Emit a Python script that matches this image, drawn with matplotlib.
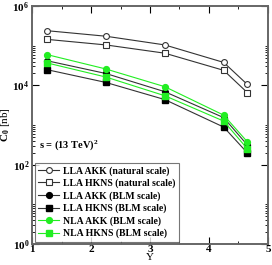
import matplotlib
matplotlib.use('Agg')
import matplotlib.pyplot as plt
from matplotlib.ticker import FixedLocator, NullFormatter

plt.rcParams['font.family'] = 'Liberation Serif'
plt.rcParams['font.weight'] = 'bold'
plt.rcParams['mathtext.fontset'] = 'custom'
plt.rcParams['mathtext.rm'] = 'Liberation Serif:bold'
plt.rcParams['mathtext.it'] = 'Liberation Serif:bold'
plt.rcParams['mathtext.bf'] = 'Liberation Serif:bold'

# rapidity interval Y
Y = [1.25, 2.25, 3.25, 4.25, 4.65]

# C_0 in nb
lla_akk_nat = [2.4e5, 1.74e5, 1.05e5, 3.8e4, 1.06e4]
lla_hkns_nat = [1.45e5, 1.05e5, 6.5e4, 2.4e4, 6.6e3]
lla_akk_blm = [4.2e4, 2.0e4, 6.95e3, 1.54e3, 316]
lla_hkns_blm = [2.5e4, 1.19e4, 4.4e3, 890, 200]
nla_akk_blm = [6.0e4, 2.6e4, 9.3e3, 1.78e3, 380]
nla_hkns_blm = [3.7e4, 1.63e4, 5.5e3, 1.26e3, 253]

labels = ['LLA AKK (natural scale)', 'LLA HKNS (natural scale)',
          'LLA AKK (BLM scale)', 'LLA HKNS (BLM scale)',
          'NLA AKK (BLM scale)', 'NLA HKNS (BLM scale)']

fig = plt.figure(figsize=(2.72, 2.65), dpi=100)
ax = fig.add_axes([0.118, 0.079, 0.867, 0.898])

dark = '#333333'
green = '#22ee22'
ms = 4.2
ax.plot(Y, lla_akk_nat, '-o', color=dark, lw=0.8, ms=ms, mfc='white', mec=dark, mew=0.8, label=labels[0])
ax.plot(Y, lla_hkns_nat, '-s', color=dark, lw=0.8, ms=ms - 0.4, mfc='white', mec=dark, mew=0.8, label=labels[1])
ax.plot(Y, lla_akk_blm, '-o', color=dark, lw=0.8, ms=ms, mfc='black', mec='black', label=labels[2])
ax.plot(Y, lla_hkns_blm, '-s', color=dark, lw=0.8, ms=ms - 0.4, mfc='black', mec='black', label=labels[3])
ax.plot(Y, nla_akk_blm, '-o', color=green, lw=0.8, ms=ms, mfc=green, mec=green, label=labels[4])
ax.plot(Y, nla_hkns_blm, '-s', color=green, lw=0.8, ms=ms - 0.4, mfc=green, mec=green, label=labels[5])

ax.set_yscale('log')
ax.set_xlim(1, 5)
ax.set_ylim(1, 1e6)
ax.set_xticks([1, 2, 3, 4, 5])
ax.set_xticks([1.5, 2.5, 3.5, 4.5], minor=True)
ax.yaxis.set_major_locator(FixedLocator([1, 1e2, 1e4, 1e6]))
ax.set_yticklabels([r'$10^0$', r'$10^2$', r'$10^4$', r'$10^6$'])
minor = [k * 10**e for e in (0, 2, 4) for k in range(2, 11)]
ax.yaxis.set_minor_locator(FixedLocator(minor))
ax.yaxis.set_minor_formatter(NullFormatter())
ax.tick_params(which='both', direction='in', top=True, right=True, labelsize=8)
ax.tick_params(axis='x', pad=1)
ax.tick_params(axis='y', pad=2)
ax.tick_params(which='major', length=5, width=0.8)
ax.tick_params(which='minor', length=2.5, width=0.6)
for sp in ax.spines.values():
    sp.set_color('#666666')
    sp.set_linewidth(1.4)

ax.set_xlabel('Y', fontsize=8, labelpad=-1)
ax.set_ylabel(r'$\mathrm{C_0}$ [nb]', fontsize=8, labelpad=0)
ax.text(0.03, 0.405, r's = (13 TeV)$^2$', transform=ax.transAxes, fontsize=7.5)

leg = ax.legend(loc='lower left', fontsize=7, frameon=True, fancybox=False,
                edgecolor='#555555', handlelength=2.2, handletextpad=0.4,
                borderpad=0.35, labelspacing=0.3, borderaxespad=0.25)
leg.get_frame().set_linewidth(0.8)

fig.savefig('out.png', dpi=100)
